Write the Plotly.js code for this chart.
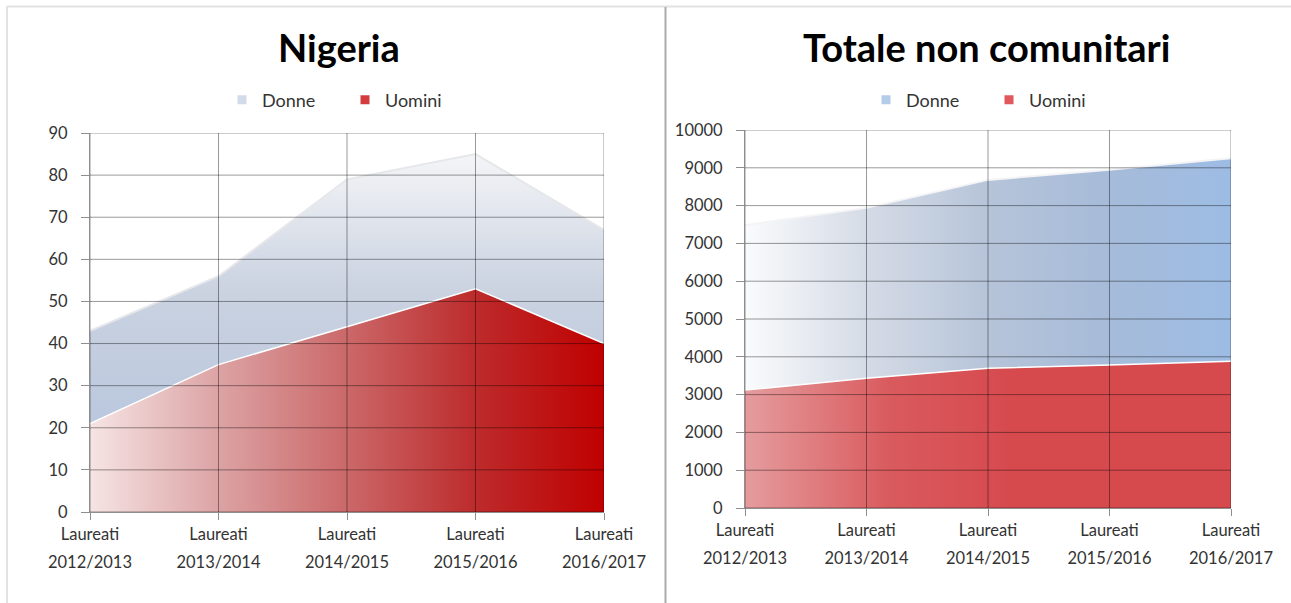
<!DOCTYPE html>
<html><head><meta charset="utf-8">
<script src="https://cdn.plot.ly/plotly-3.0.1.min.js"></script>
<style>html,body{margin:0;padding:0;background:#fff}#chart{width:1291px;height:603px}</style>
</head><body><div id="chart"></div>
<script>
const categories = ['Laureati<br>2012/2013', 'Laureati<br>2013/2014', 'Laureati<br>2014/2015', 'Laureati<br>2015/2016', 'Laureati<br>2016/2017'];
const nigeriaUomini = [21, 35, 44, 53, 40];
const nigeriaDonne = [22, 21, 35, 32, 27];
const totaleUomini = [3120, 3430, 3700, 3780, 3880];
const totaleDonne = [4360, 4510, 4980, 5170, 5370];
const leftTicks = [0, 10, 20, 30, 40, 50, 60, 70, 80, 90];
const rightTicks = [0, 1000, 2000, 3000, 4000, 5000, 6000, 7000, 8000, 9000, 10000];
const titles = ['Nigeria', 'Totale non comunitari'];
const seriesNames = ['Donne', 'Uomini'];

const FONT = 'Lato, "Open Sans", sans-serif';
const GRID = 'rgba(0,0,0,0.40)';
const AXC = '#8E8E8E';
const catLine1 = categories.map(c => c.split('<br>')[0]);
const catLine2 = categories.map(c => c.split('<br>')[1]);
const catIdx = categories.map((c, i) => i);

const traces = [
  {x: categories, y: nigeriaUomini, name: seriesNames[1], stackgroup: 'a', xaxis: 'x', yaxis: 'y',
   mode: 'lines', line: {color: '#FFFFFF', width: 1.5}, showlegend: false, hoverinfo: 'skip',
   fillgradient: {type: 'horizontal', colorscale: [[0, '#F6E4E4'], [0.25, '#DCA3A4'], [0.5, '#CB6869'], [0.75, '#BD2B2C'], [1, '#C00000']]}},
  {x: categories, y: nigeriaDonne, name: seriesNames[0], stackgroup: 'a', xaxis: 'x', yaxis: 'y',
   mode: 'lines', line: {color: '#E6E7EA', width: 2}, showlegend: false, hoverinfo: 'skip',
   fillgradient: {type: 'vertical', colorscale: [[0, '#BAC7DD'], [0.5, '#CBD3E1'], [1, '#F4F5F7']]}},
  {x: categories, y: totaleUomini, name: seriesNames[1], stackgroup: 'b', xaxis: 'x2', yaxis: 'y2',
   mode: 'lines', line: {color: '#FFFFFF', width: 1.5}, showlegend: false, hoverinfo: 'skip',
   fillgradient: {type: 'horizontal', colorscale: [[0, '#E59C9E'], [0.3, '#D95A5D'], [0.55, '#D64A4E'], [1, '#D64A4E']]}},
  {x: categories, y: totaleDonne, name: seriesNames[0], stackgroup: 'b', xaxis: 'x2', yaxis: 'y2',
   mode: 'lines', line: {color: '#F4F4F6', width: 2}, showlegend: false, hoverinfo: 'skip',
   fillgradient: {type: 'horizontal', colorscale: [[0, '#FAFBFC'], [0.25, '#D5DBE6'], [0.5, '#B6C4D9'], [0.75, '#A6BBD9'], [1, '#9DBCE4']]}},
  // legend entries (no data drawn)
  {x: [null], y: [null], name: seriesNames[0], mode: 'markers', xaxis: 'x3', yaxis: 'y', legend: 'legend',
   marker: {symbol: 'square', size: 9, color: '#D3DBEA'}},
  {x: [null], y: [null], name: seriesNames[1], mode: 'markers', xaxis: 'x3', yaxis: 'y', legend: 'legend',
   marker: {symbol: 'square', size: 9, color: '#D23C3F'}},
  {x: [null], y: [null], name: seriesNames[0], mode: 'markers', xaxis: 'x4', yaxis: 'y2', legend: 'legend2',
   marker: {symbol: 'square', size: 9, color: '#B5CBEA'}},
  {x: [null], y: [null], name: seriesNames[1], mode: 'markers', xaxis: 'x4', yaxis: 'y2', legend: 'legend2',
   marker: {symbol: 'square', size: 9, color: '#E0585B'}}
];

const TICKFONT = {family: FONT, size: 16.5, color: '#333333'};
function xaxis(domain, anchor) {
  return {domain: domain, anchor: anchor, type: 'category', range: [0, categories.length - 1],
    tickmode: 'array', tickvals: categories, ticktext: catLine1,
    showgrid: false, zeroline: false, showline: true, linecolor: AXC, linewidth: 1,
    ticks: 'outside', ticklen: 7, tickcolor: AXC, tickangle: 0,
    tickfont: TICKFONT, fixedrange: true};
}
function xaxisLine2(domain, anchor, over) {
  return {domain: domain, anchor: anchor, overlaying: over, side: 'bottom', type: 'linear',
    range: [0, categories.length - 1], tickmode: 'array', tickvals: catIdx, ticktext: catLine2,
    showgrid: false, zeroline: false, showline: false, ticks: '', tickangle: 0,
    ticklabelstandoff: 38, tickfont: TICKFONT, fixedrange: true};
}
function yaxis(domain, anchor, ticks) {
  return {domain: domain, anchor: anchor, range: [ticks[0], ticks[ticks.length - 1]],
    tickmode: 'array', tickvals: ticks, ticktext: ticks.map(String), showgrid: false, zeroline: false,
    showline: true, linecolor: AXC, linewidth: 1,
    ticks: 'outside', ticklen: 8, tickcolor: AXC, ticklabelstandoff: 10,
    tickfont: {family: FONT, size: 16.5, color: '#333333'}, fixedrange: true};
}

const shapes = [];
function gridShapes(xa, ya, yticks) {
  yticks.forEach(v => shapes.push({type: 'line', layer: 'above', xref: xa + ' domain', yref: ya,
    x0: 0, x1: 1, y0: v, y1: v, line: {color: GRID, width: 1}}));
  categories.forEach(c => shapes.push({type: 'line', layer: 'above', xref: xa, yref: ya + ' domain',
    x0: c, x1: c, y0: 0, y1: 1, line: {color: GRID, width: 1}}));
}
gridShapes('x', 'y', leftTicks);
gridShapes('x2', 'y2', rightTicks);
// frame lines
shapes.push({type: 'line', xref: 'paper', yref: 'paper', x0: 7 / 1291, x1: 1, y0: 1 - 6.5 / 603, y1: 1 - 6.5 / 603, line: {color: '#E2E2E2', width: 2}});
shapes.push({type: 'line', xref: 'paper', yref: 'paper', x0: 7 / 1291, x1: 7 / 1291, y0: 0, y1: 1 - 6 / 603, line: {color: '#E2E2E2', width: 2}});
shapes.push({type: 'line', xref: 'paper', yref: 'paper', x0: 665.5 / 1291, x1: 665.5 / 1291, y0: 0, y1: 1 - 7 / 603, line: {color: '#ABABAB', width: 2}});

const legendBase = {orientation: 'h', yanchor: 'middle', xanchor: 'left', y: 1 - 100 / 603,
  font: {family: FONT, size: 18, color: '#333333'}, entrywidth: 78, itemwidth: 30,
  traceorder: 'normal', bgcolor: 'rgba(0,0,0,0)', tracegroupgap: 0};

const dL = [90 / 1291, 604 / 1291], dR = [745 / 1291, 1231 / 1291];
const layout = {
  width: 1291, height: 603, margin: {l: 0, r: 0, t: 0, b: 0},
  paper_bgcolor: '#FFFFFF', plot_bgcolor: '#FFFFFF', showlegend: true,
  xaxis: xaxis(dL, 'y'),
  xaxis3: xaxisLine2(dL, 'y', 'x'),
  yaxis: yaxis([1 - 512 / 603, 1 - 133 / 603], 'x', leftTicks),
  xaxis2: xaxis(dR, 'y2'),
  xaxis4: xaxisLine2(dR, 'y2', 'x2'),
  yaxis2: yaxis([1 - 508 / 603, 1 - 130 / 603], 'x2', rightTicks),
  legend: Object.assign({}, legendBase, {x: 222 / 1291}),
  legend2: Object.assign({}, legendBase, {x: 866 / 1291}),
  shapes: shapes,
  annotations: [
    {text: '<b>' + titles[0] + '</b>', xref: 'paper', yref: 'paper', x: 339 / 1291, y: 1 - 47 / 603,
     xanchor: 'center', yanchor: 'middle', showarrow: false, font: {family: FONT, size: 38, color: '#000000'}},
    {text: '<b>' + titles[1] + '</b>', xref: 'paper', yref: 'paper', x: 986 / 1291, y: 1 - 47 / 603,
     xanchor: 'center', yanchor: 'middle', showarrow: false, font: {family: FONT, size: 38, color: '#000000'}}
  ]
};

Plotly.newPlot('chart', traces, layout, {displayModeBar: false, staticPlot: true});
</script></body></html>
